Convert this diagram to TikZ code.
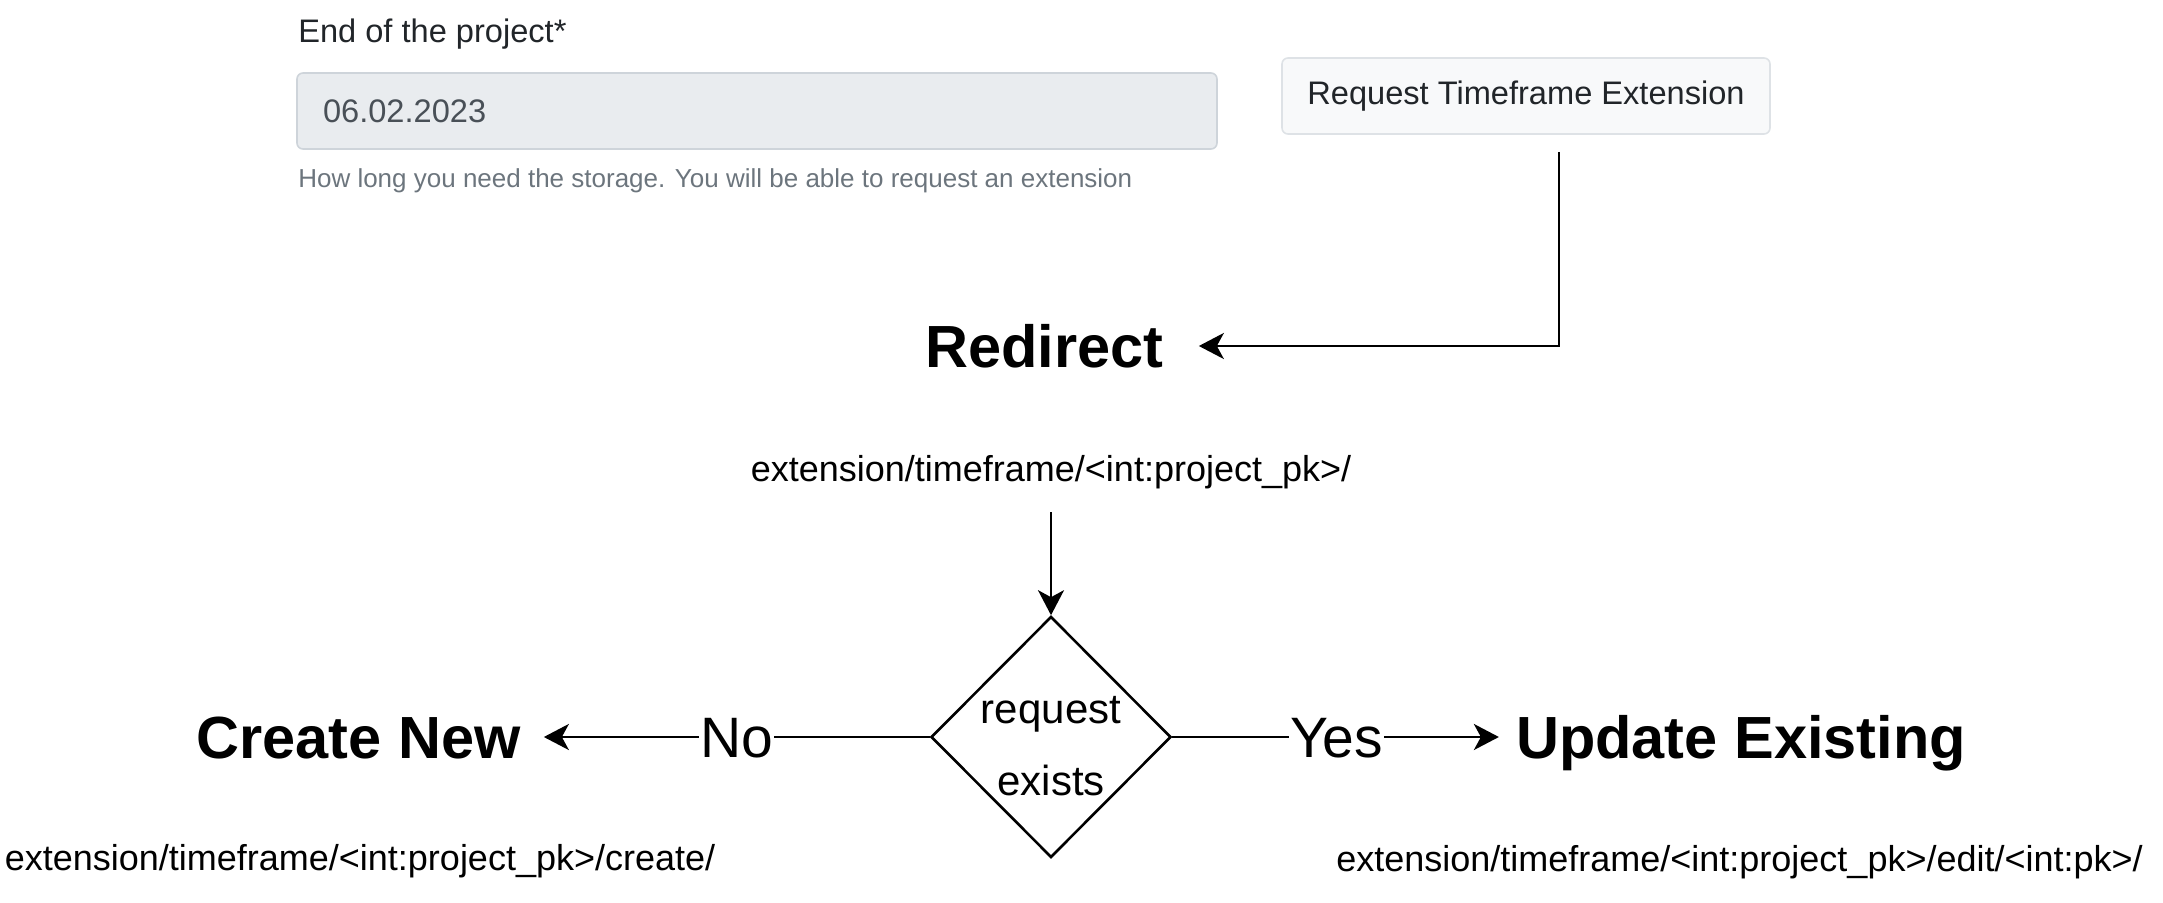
\documentclass[tikz,border=0pt]{standalone}
\usepackage{fontspec}
\setmainfont{Liberation Sans}
\usetikzlibrary{arrows.meta, shapes.geometric}
\definecolor{uitext}{HTML}{212529}
\definecolor{datetext}{HTML}{495057}
\definecolor{helptext}{HTML}{6C757D}
\definecolor{inputbg}{HTML}{E9ECEF}
\definecolor{inputbd}{HTML}{CED4DA}
\definecolor{btnbg}{HTML}{F8F9FA}
\definecolor{btnbd}{HTML}{DEE2E6}

\begin{document}
\begin{tikzpicture}[x=0.5pt, y=-0.5pt, line width=1.3pt,
    >={Stealth[length=12.5pt, width=13pt, inset=3.5pt]},
    heading/.style={font=\fontsize{29.75}{30}\selectfont\bfseries, text height=21.4pt, text depth=0pt, inner sep=0pt},
    urltext/.style={font=\fontsize{18}{20}\selectfont, text height=13pt, text depth=0pt, inner sep=0pt},
    answer/.style={font=\fontsize{28.5}{30}\selectfont, text height=20.5pt, text depth=0pt, inner sep=0pt},
    decision/.style={diamond, draw, aspect=1, minimum width=120pt, minimum height=120.5pt, inner sep=-2.5pt, align=center, text height=58.5pt, text depth=0pt, font=\fontsize{21}{36}\selectfont},
    uibox/.style={rounded corners=3pt, line width=0.8pt, minimum height=38pt, font=\fontsize{16.3}{18}\selectfont}]
    \useasboundingbox (0,0) rectangle (2163,903);

    % the form
    \node [anchor=west, inner xsep=0pt, font=\fontsize{16.3}{18}\selectfont, text=uitext] (label) at (297,34) {End of the project*};
    \node [uibox, fill=inputbg, draw=inputbd, inner xsep=13pt, text width=434pt, align=left, text=datetext] (input) at (757,111) {06.02.2023};
    \node [anchor=west, inner xsep=0pt, font=\fontsize{13}{15}\selectfont, text=helptext] (help) at (297,181) {How long you need the storage. You will be able to request an extension};
    \node [uibox, fill=btnbg, draw=btnbd, minimum width=244pt, text=uitext] (button) at (1526,96) {Request Timeframe Extension};

    % the flow
    \node [heading, inner xsep=17pt] (redirect) at (1044.5,346) {Redirect};
    \node [urltext] (route) at (1051,468) {extension/timeframe/<int:project\_pk>/};
    \node [decision] (exists) at (1051,737) {request\\exists};
    \node [answer] (no) at (736.5,737) {No};
    \node [answer] (yes) at (1336.5,737) {Yes};
    \node [heading, inner xsep=11pt] (create) at (358.5,737) {Create New};
    \node [heading, inner xsep=8pt] (update) at (1741,737) {Update Existing};
    \node [urltext] (createroute) at (360,857) {extension/timeframe/<int:project\_pk>/create/};
    \node [urltext] (updateroute) at (1739.5,858) {extension/timeframe/<int:project\_pk>/edit/<int:pk>/};

    \coordinate (buttonout) at (1559,152);
    \draw [->] (buttonout) |- (redirect.east);
    \draw [->, shorten <=15pt] (route.south) -- (exists.north);
    \draw (exists.west) -- (no.east);
    \draw [->] (no.west) -- (create.east);
    \draw (exists.east) -- (yes.west);
    \draw [->] (yes.east) -- (update.west);
\end{tikzpicture}
\end{document}
